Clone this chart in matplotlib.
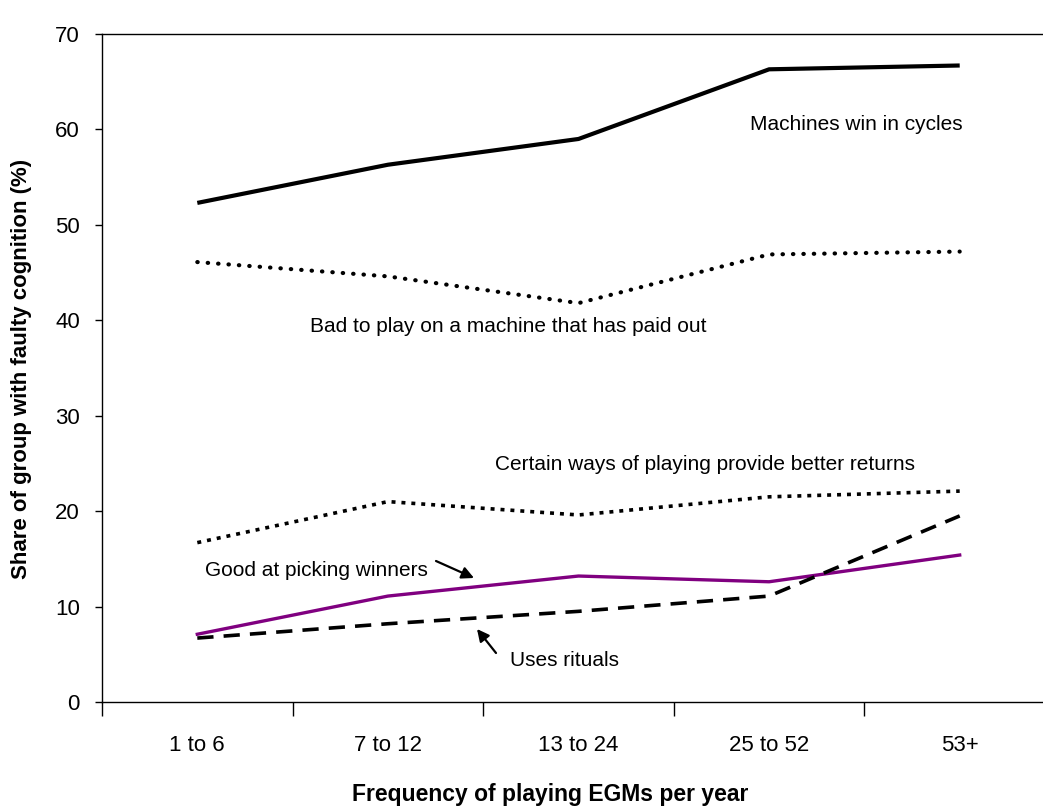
import matplotlib
matplotlib.use("Agg")
import matplotlib.pyplot as plt
import numpy as np

plt.rcParams['font.family'] = ['Liberation Sans', 'DejaVu Sans']

categories = ["1 to 6", "7 to 12", "13 to 24", "25 to 52", "53+"]
machines_cycles = [52.3, 56.3, 59.0, 66.3, 66.7]
bad_paid_out = [46.1, 44.6, 41.8, 46.9, 47.2]
certain_ways = [16.7, 21.0, 19.6, 21.5, 22.1]
picking_winners = [7.1, 11.1, 13.2, 12.6, 15.4]
uses_rituals = [6.7, 8.2, 9.5, 11.1, 19.5]
yticks = [0, 10, 20, 30, 40, 50, 60, 70]

W, H = 1043, 807
fig = plt.figure(figsize=(W / 100, H / 100), dpi=100)
left, right, top, bottom = 102, 1055, 34, 702
ax = fig.add_axes([left / W, 1 - bottom / H, (right - left) / W, (bottom - top) / H])

x = np.arange(len(categories))
ax.plot(x, machines_cycles, color='black', lw=3, solid_capstyle='butt')
ax.plot(x, bad_paid_out, color='black', lw=3, linestyle=(0, (0.1, 2.4)), dash_capstyle='round')
ax.plot(x, certain_ways, color='black', lw=2.6, linestyle=(0, (1.1, 1.65)), dash_capstyle='butt')
ax.plot(x, picking_winners, color='#800080', lw=2.4)
ax.plot(x, uses_rituals, color='black', lw=2.6, linestyle=(0, (4.5, 2.8)))

ax.set_xlim(-0.5, 4.5)
ax.set_ylim(0, 70)
ax.set_yticks(yticks)
ax.set_yticklabels([str(v) for v in yticks], fontsize=16)
ax.tick_params(axis='y', length=5, width=1, pad=11, direction='out')

ax.set_xticks(x)
ax.set_xticklabels(categories, fontsize=16)
ax.tick_params(axis='x', which='major', length=0, pad=24)
ax.set_xticks(np.arange(-0.5, 4.6, 1.0), minor=True)
ax.tick_params(axis='x', which='minor', length=10, width=1, direction='out')

for s in ['left', 'bottom', 'top']:
    ax.spines[s].set_linewidth(1)
ax.spines['right'].set_visible(False)

fig.text(550 / W, 1 - 795 / H, "Frequency of playing EGMs per year", ha='center', va='center',
         fontsize=16.5, fontweight='bold')
fig.text(22 / W, 1 - 369 / H, "Share of group with faulty cognition (%)", ha='center', va='center',
         rotation=90, fontsize=16, fontweight='bold')

def px(xp, yp):
    return (xp / W, 1 - yp / H)

fs = 15
fig.text(*px(856, 124), "Machines win in cycles", ha='center', va='center', fontsize=fs)
fig.text(*px(508, 327), "Bad to play on a machine that has paid out", ha='center', va='center', fontsize=fs)
fig.text(*px(705, 465), "Certain ways of playing provide better returns", ha='center', va='center', fontsize=fs)
fig.text(*px(316, 571), "Good at picking winners", ha='center', va='center', fontsize=fs)
fig.text(*px(565, 661), "Uses rituals", ha='center', va='center', fontsize=fs)

arrowprops = dict(arrowstyle='-|>', color='black', lw=1.6, mutation_scale=18, shrinkA=0, shrinkB=0)
fig.add_artist(matplotlib.patches.FancyArrowPatch(px(436, 561), px(474, 578), transform=fig.transFigure, **arrowprops))
fig.add_artist(matplotlib.patches.FancyArrowPatch(px(496, 653), px(477, 629), transform=fig.transFigure, **arrowprops))

fig.savefig("out.png", dpi=100)
